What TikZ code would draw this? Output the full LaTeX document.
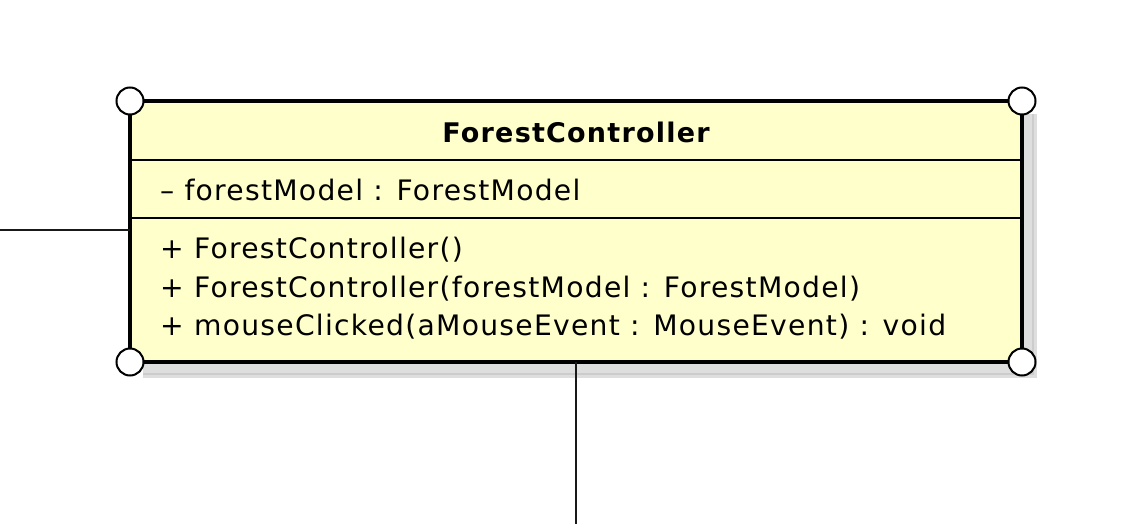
\documentclass[tikz,border=0pt]{standalone}
\usepackage{fontspec}
\setmainfont{DejaVu Sans}[LetterSpace=4.5]
\usepackage{tikz}
\usetikzlibrary{calc,positioning}
\definecolor{classfill}{RGB}{255,255,204}
\definecolor{shadowgrey}{RGB}{222,222,222}
\definecolor{shadowline}{RGB}{204,204,204}
\tikzset{
	classbox/.style={draw=black, line width=4pt, fill=classfill, minimum width=892, minimum height=261, inner sep=0pt, outer sep=0pt},
	member/.style={anchor=west, inner sep=0pt, font=\fontsize{28.2}{30}\selectfont},
	handle/.style={draw=black, line width=2pt, fill=white, circle, minimum size=27, inner sep=0pt},
	wire/.style={line width=2pt, color=black!90}
}

\begin{document}
\begin{tikzpicture}[x=1pt, y=-1pt]
			%%%%% START %%%%%
			\useasboundingbox (0, 0) rectangle (1126, 524);
			
			% shadow
			\fill[shadowgrey] (143, 114) rectangle (1037, 378);
			\draw[shadowline, line width=2pt] (1033, 114) -- (1033, 374) -- (143, 374);
			
			\node[classbox] (ctrl) at (576, 231.5) {};
			
			% compartments
			\draw[line width=2pt] (130, 160) -- (1022, 160);
			\draw[line width=2pt] (130, 218) -- (1022, 218);
			
			\node[font=\bfseries\fontsize{27}{30}\selectfont, inner sep=0pt] (title) at (576, 132) {ForestController};
			\node[member] (attr) at (160, 190) {-- forestModel : ForestModel};
			\node[member] (op1) at (160, 250) {+ ForestController()};
			\node[member] (op2) at (160, 289) {+ ForestController(forestModel : ForestModel)};
			\node[member] (op3) at (160, 327) {+ mouseClicked(aMouseEvent : MouseEvent) : void};
			
			% connectors
			\coordinate (leftend) at (0, 230);
			\coordinate (downend) at (576, 524);
			\draw[wire] (leftend) -- (leftend -| ctrl.west);
			\draw[wire] (ctrl.south) -- (downend);
			
			% corner handles
			\node[handle] (hnw) at (ctrl.north west) {};
			\node[handle] (hne) at (ctrl.north east) {};
			\node[handle] (hsw) at (ctrl.south west) {};
			\node[handle] (hse) at (ctrl.south east) {};
			
			%%%%% END %%%%%
\end{tikzpicture}
\end{document}
